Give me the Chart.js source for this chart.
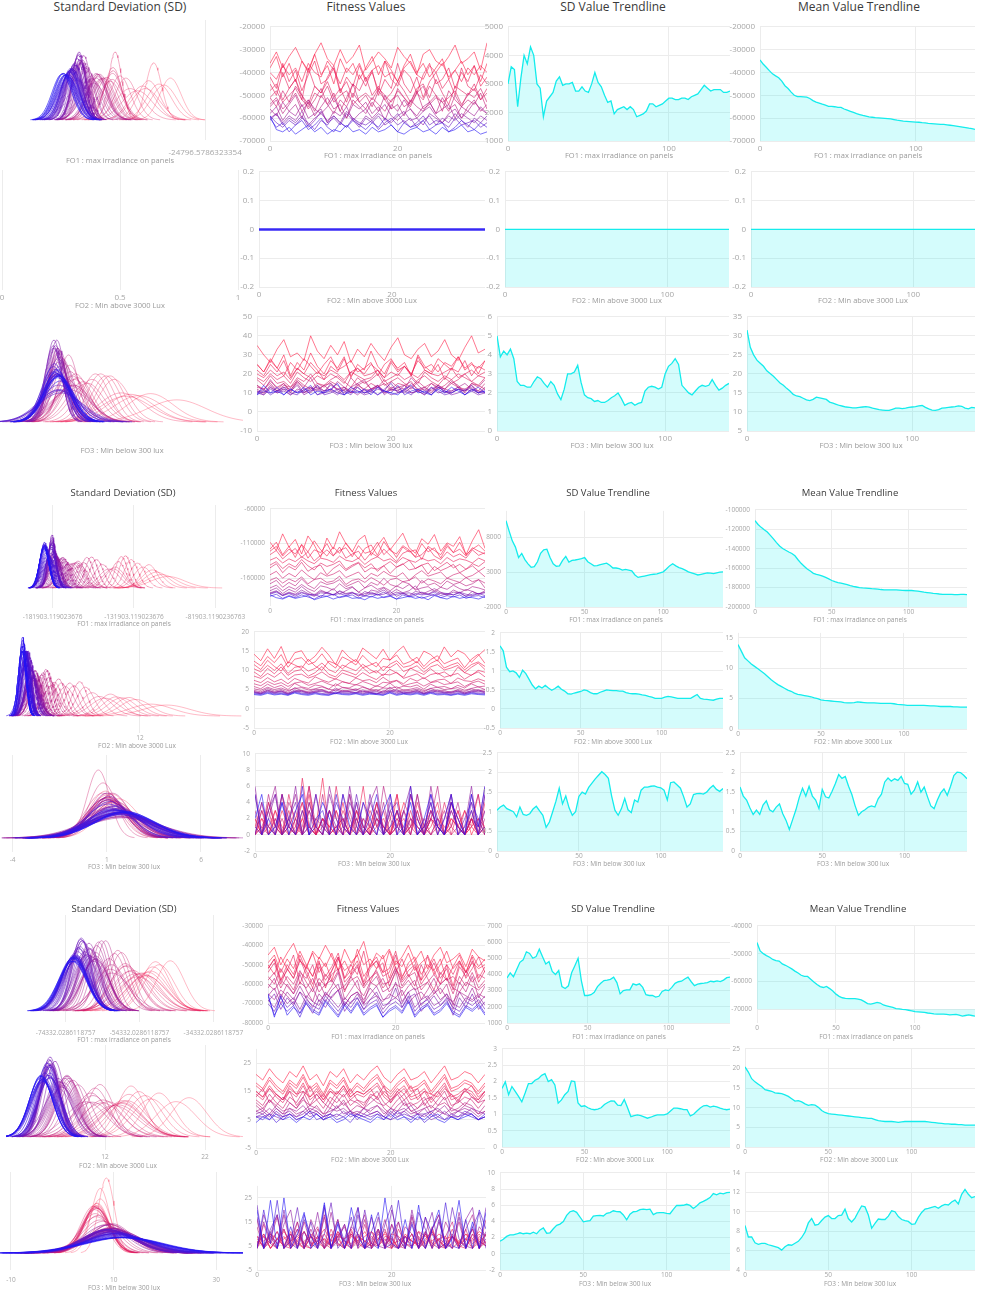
<!DOCTYPE html>
<html>
<head>
<meta charset="utf-8">
<script src="https://cdn.jsdelivr.net/npm/chart.js@4.4.1/dist/chart.umd.min.js"></script>
<style>
  body { margin: 0; background: #fff; width: 982px; height: 1296px; position: relative; overflow: hidden; font-family: 'Open Sans', sans-serif; }
  canvas { position: absolute; }
  .txt { position: absolute; transform: translate(-50%, -50%); white-space: nowrap; line-height: 1; }
</style>
</head>
<body>
<script>
// ---- data ----
const HEADERS = ['Standard Deviation (SD)', 'Fitness Values', 'SD Value Trendline', 'Mean Value Trendline'];
const OBJ_LABELS = ['FO1 : max irradiance on panels', 'FO2 : Min above 3000 Lux', 'FO3 : Min below 300 lux'];

// generations sampled for the trendlines (every second one)
const GENS = [0,2,4,6,8,10,12,14,16,18,20,22,24,26,28,30,32,34,36,38,40,42,44,46,48,50,52,54,56,58,60,62,64,66,68,
  70,72,74,76,78,80,82,84,86,88,90,92,94,96,98,100,102,104,106,108,110,112,114,116,118,120,122,124,126,128,130,132,134,136,138];
// individuals on the fitness x axis
const IND = [0,1,2,3,4,5,6,7,8,9,10,11,12,13,14,15,16,17,18,19,20,21,22,23,24,25,26,27,28,29,30,31,32,33,34];
// generations of the fitness rows below
const FIT_GENS = [0, 3, 6, 10, 14, 19, 24, 30, 36, 44, 52, 62, 72, 84, 96, 118, 138];

// block 1
const B1_FO1_SD = [3000,3600,3500,2200,3200,4000,3700,4300,4000,3000,2850,1850,2400,2550,2700,3100,3250,2950,3000,3000,
  3050,2750,2750,2900,2750,2700,3000,3400,3050,2900,2600,2350,2400,1950,2100,2150,2200,2100,2200,2100,
  1850,1900,1950,2050,2300,2300,2200,2250,2300,2400,2500,2500,2450,2450,2500,2500,2450,2550,2600,2650,
  2800,2950,2850,2750,2800,2800,2800,2700,2700,2750];
const B1_FO1_MEAN = [-34500,-36300,-37700,-39200,-40600,-41500,-42300,-43800,-45800,-47000,-48600,-50000,-50600,-50600,-50700,-50800,-51400,-52300,-53000,-53400,
  -53900,-54300,-54800,-54800,-55000,-55300,-55300,-56000,-56500,-57000,-57500,-58000,-58400,-58800,-59100,-59400,-59600,-59800,-59900,-60000,
  -60100,-60200,-60300,-60600,-60900,-61100,-61300,-61400,-61500,-61600,-61700,-61800,-62000,-62100,-62300,-62400,-62500,-62600,-62700,-62700,
  -62900,-63100,-63300,-63500,-63700,-63900,-64100,-64400,-64600,-64900];
const B1_FO2_SD = [0,0,0,0,0,0,0,0,0,0,0,0,0,0,0,0,0,0,0,0,0,0,0,0,0,0,0,0,0,0,0,0,0,0,0,
  0,0,0,0,0,0,0,0,0,0,0,0,0,0,0,0,0,0,0,0,0,0,0,0,0,0,0,0,0,0,0,0,0,0,0];
const B1_FO2_MEAN = [0,0,0,0,0,0,0,0,0,0,0,0,0,0,0,0,0,0,0,0,0,0,0,0,0,0,0,0,0,0,0,0,0,0,0,
  0,0,0,0,0,0,0,0,0,0,0,0,0,0,0,0,0,0,0,0,0,0,0,0,0,0,0,0,0,0,0,0,0,0,0];
const B1_FO3_SD = [5.0,3.9,4.2,4.0,4.3,3.8,2.6,2.4,2.4,2.3,2.3,2.6,2.85,2.75,2.5,2.3,2.6,2.4,1.95,1.65,
  2.2,3.0,3.0,3.1,3.45,2.55,1.9,1.75,1.7,1.55,1.6,1.5,1.5,1.6,1.75,1.85,2.0,1.7,1.35,1.45,
  1.5,1.35,1.45,1.5,2.1,2.3,2.35,2.3,2.2,2.3,3.0,3.4,3.55,3.8,3.5,2.4,2.2,2.0,1.9,2.1,
  2.3,2.4,2.35,2.4,2.7,2.4,2.15,2.25,2.4,2.5];
const B1_FO3_MEAN = [31.5,27,25,23.6,22.8,22,20.8,20.1,19.4,18.5,17.6,17,16.2,15.5,14.6,14.2,14.0,13.6,13.2,13.0,
  13.3,13.9,13.7,13.5,13.3,12.6,12.3,12.0,11.7,11.5,11.3,11.2,11.1,11.1,11.2,11.3,11.4,11.3,11.0,10.8,
  10.6,10.5,10.4,10.4,10.7,11.0,11.0,10.9,11.0,11.2,11.3,11.4,11.6,11.7,11.2,10.8,10.5,10.4,10.6,11.0,
  11.1,11.2,11.3,11.4,11.6,11.5,11.0,10.8,11.2,11.1];

// fitness rows (one per FIT_GENS entry), FO1 values in thousands
const B1_FO1_FIT_K = [
  [-36,-31,-38,-33,-29,-35,-40,-32,-27,-34,-37,-30,-36,-33,-28,-39,-35,-31,-34,-38,-29,-33,-36,-41,-32,-30,-35,-37,-33,-28,-36,-34,-31,-39,-27],
  [-38,-33,-42,-36,-44,-35,-39,-32,-41,-37,-45,-34,-40,-36,-43,-38,-33,-41,-35,-39,-44,-37,-32,-40,-36,-42,-38,-34,-43,-39,-35,-41,-37,-44,-36],
  [-40,-43,-37,-41,-38,-44,-36,-40,-42,-35,-39,-45,-38,-41,-36,-43,-39,-37,-42,-40,-44,-38,-35,-41,-43,-37,-40,-36,-42,-39,-44,-38,-41,-37,-40],
  [-42,-47,-36,-44,-39,-48,-41,-35,-45,-43,-38,-49,-42,-46,-37,-44,-40,-48,-35,-43,-46,-39,-42,-49,-41,-36,-45,-43,-38,-47,-40,-44,-37,-46,-42],
  [-45,-50,-40,-47,-43,-52,-38,-46,-49,-42,-37,-48,-44,-51,-41,-46,-39,-50,-43,-47,-36,-45,-49,-42,-51,-44,-40,-47,-43,-50,-38,-46,-48,-41,-45],
  [-48,-45,-52,-47,-43,-50,-54,-46,-49,-44,-51,-47,-53,-45,-48,-42,-50,-46,-52,-49,-44,-48,-53,-47,-45,-51,-43,-49,-54,-46,-48,-50,-45,-52,-47],
  [-51,-48,-53,-50,-47,-52,-55,-49,-51,-46,-53,-50,-48,-54,-51,-49,-52,-47,-50,-53,-48,-51,-55,-49,-52,-46,-50,-53,-51,-48,-54,-50,-47,-52,-49],
  [-51,-55,-48,-53,-46,-50,-56,-52,-47,-54,-49,-57,-51,-45,-53,-50,-55,-48,-52,-56,-47,-51,-54,-49,-46,-53,-50,-57,-48,-52,-55,-49,-51,-47,-53],
  [-54,-51,-56,-53,-49,-55,-52,-57,-50,-54,-58,-52,-55,-49,-53,-56,-51,-54,-57,-52,-50,-55,-53,-48,-56,-54,-51,-53,-57,-50,-55,-52,-54,-49,-56],
  [-55,-52,-58,-54,-50,-57,-53,-59,-55,-51,-56,-54,-60,-52,-55,-58,-53,-57,-50,-56,-54,-59,-52,-55,-57,-53,-58,-51,-56,-54,-60,-55,-52,-57,-54],
  [-56,-59,-53,-57,-54,-60,-52,-56,-58,-55,-51,-57,-60,-54,-56,-53,-58,-55,-61,-54,-57,-52,-56,-59,-55,-53,-58,-56,-54,-60,-55,-57,-53,-56,-58],
  [-58,-55,-61,-57,-59,-54,-60,-58,-56,-62,-57,-59,-55,-61,-58,-56,-60,-57,-54,-59,-61,-58,-56,-60,-57,-55,-59,-62,-58,-56,-60,-57,-59,-55,-58],
  [-60,-58,-62,-59,-61,-57,-63,-60,-58,-61,-59,-62,-57,-60,-63,-59,-61,-58,-60,-62,-59,-57,-61,-60,-63,-58,-60,-62,-59,-61,-58,-60,-62,-59,-61],
  [-61,-58,-63,-60,-62,-59,-64,-61,-57,-62,-60,-63,-58,-61,-64,-60,-62,-59,-63,-61,-58,-62,-60,-64,-61,-59,-63,-60,-62,-58,-61,-64,-60,-62,-59],
  [-59,-62,-64,-61,-63,-60,-62,-65,-61,-63,-59,-62,-64,-60,-62,-63,-61,-65,-62,-60,-63,-61,-64,-62,-59,-63,-61,-62,-64,-60,-63,-62,-61,-64,-62],
  [-60,-64,-62,-66,-63,-61,-65,-63,-60,-64,-66,-62,-64,-61,-63,-65,-62,-64,-60,-63,-66,-62,-64,-63,-61,-65,-63,-62,-66,-64,-61,-63,-65,-62,-64],
  [-59,-65,-66,-64,-67,-65,-63,-66,-64,-67,-65,-66,-63,-66,-65,-67,-64,-66,-65,-63,-66,-67,-65,-64,-66,-65,-67,-64,-66,-65,-63,-66,-65,-67,-66]
];
const B1_FO2_FIT = [
  [0,0,0,0,0,0,0,0,0,0,0,0,0,0,0,0,0,0,0,0,0,0,0,0,0,0,0,0,0,0,0,0,0,0,0]
];
const B1_FO3_FIT = [
  [35,30,26,33,38,29,31,27,40,32,28,35,30,37,26,33,29,36,31,27,34,39,30,28,33,36,29,32,38,30,27,34,40,31,33],
  [25,21,28,23,30,19,26,22,31,24,20,27,23,29,18,25,22,32,24,20,27,23,26,19,30,24,21,28,25,22,29,23,26,20,27],
  [25,21,27,23,19,26,22,28,24,20,25,29,22,24,27,21,23,26,19,25,28,22,24,20,27,23,25,21,26,24,29,22,25,23,27],
  [22,19,25,21,27,18,23,20,26,22,17,24,21,28,19,23,20,25,22,18,26,21,24,19,29,22,20,25,17,23,21,27,19,24,22],
  [20,18,22,19,21,17,23,20,18,21,19,22,20,17,21,23,19,20,22,18,21,19,24,20,18,22,20,19,21,23,18,20,22,19,21],
  [18,16,20,17,19,15,21,18,16,19,17,20,18,15,21,19,17,18,22,16,18,20,17,19,15,21,18,16,19,17,20,18,16,19,18],
  [17,14,19,15,16,13,18,16,20,15,14,17,19,16,13,18,15,17,20,14,16,18,15,13,17,19,16,14,18,15,17,20,16,14,18],
  [14,12,16,13,15,11,17,14,12,15,13,16,14,11,18,14,12,15,13,17,12,15,14,16,11,13,15,12,14,17,13,11,15,14,12],
  [13,12,15,11,14,13,16,12,13,11,14,15,12,13,10,14,16,12,13,15,11,13,14,12,16,13,11,14,12,15,13,12,14,11,15],
  [14,11,17,12,15,10,16,13,18,12,14,11,16,13,10,15,17,12,14,11,16,13,12,18,14,11,15,13,12,16,14,10,15,13,17],
  [12,10,14,11,13,12,15,10,12,13,11,14,12,10,13,15,11,12,14,10,13,12,11,15,12,13,10,14,12,11,13,15,12,10,13],
  [11,10,13,11,12,9,12,11,10,14,11,12,10,13,11,9,12,11,13,10,12,11,14,10,11,12,9,13,11,10,12,11,13,10,12],
  [11,9,13,10,12,11,14,9,11,12,10,15,11,9,12,13,10,11,14,9,12,11,10,13,11,9,12,14,10,11,13,9,12,11,10],
  [10,9,12,10,11,9,11,10,13,9,10,11,9,12,10,11,9,10,12,11,9,10,12,10,11,9,13,10,11,9,10,12,11,9,10],
  [10,12,9,11,13,10,9,12,11,14,9,10,12,11,9,13,10,11,9,12,15,10,11,9,12,10,13,11,9,10,12,11,14,10,11],
  [9,11,10,13,9,12,10,11,14,9,11,12,10,9,13,11,10,12,9,11,10,14,9,11,12,10,9,13,11,10,12,9,11,13,10],
  [9,14,10,11,9,12,10,13,9,11,10,12,15,9,11,10,12,9,13,11,10,9,12,14,10,11,9,12,10,13,11,9,12,10,11]
];

// block 2
const B2_FO1_SD = [10400,8900,7500,6600,5100,5700,4800,4200,3700,3800,4500,5700,6200,6300,5100,4200,3850,3900,4700,5250,
  4450,4700,4750,4850,4950,5100,4500,4200,3900,3950,4100,4200,4300,4000,3600,3600,3500,3300,3400,3300,
  3200,2600,2250,2350,2450,2550,2650,2700,2750,2900,3050,3450,3900,4200,3900,3650,3500,3300,3050,2900,
  2750,2600,2700,2800,2900,2850,2800,2900,3000,3050];
const B2_FO1_MEAN = [-111000,-115000,-118000,-120500,-122800,-126300,-129800,-133700,-137200,-139700,
  -141600,-143400,-144900,-147300,-151300,-155000,-158000,-160900,-163000,-165300,
  -166300,-167200,-168200,-169500,-171100,-172700,-173900,-174800,-175500,-176200,
  -176900,-177900,-178800,-179400,-180000,-180400,-180600,-180800,-181100,-181300,
  -181600,-182000,-182300,-182300,-182300,-182300,-182400,-182600,-182900,-183000,
  -183000,-183000,-183300,-183700,-184200,-184700,-185100,-185500,-185900,-186200,
  -186600,-186900,-187100,-187100,-187100,-187200,-187200,-187100,-187100,-187200];
const B2_FO2_SD = [1.66,1.53,1.1,0.98,1.0,0.95,0.83,1.02,0.93,0.78,0.63,0.53,0.6,0.55,0.62,0.55,0.49,0.54,0.6,0.52,
  0.47,0.4,0.39,0.42,0.44,0.46,0.5,0.48,0.43,0.4,0.4,0.44,0.47,0.5,0.49,0.48,0.48,0.47,0.47,0.43,
  0.41,0.4,0.4,0.39,0.37,0.36,0.33,0.31,0.28,0.28,0.28,0.31,0.33,0.32,0.3,0.28,0.28,0.28,0.28,0.28,
  0.33,0.38,0.28,0.26,0.25,0.24,0.23,0.26,0.28,0.28];
const B2_FO2_MEAN = [13.9,12.8,11.7,11.2,10.7,10.3,9.9,9.5,9.1,8.6,8.1,7.7,7.3,7.0,6.7,6.4,6.2,5.9,5.7,5.6,
  5.5,5.4,5.3,5.1,5.0,4.8,4.7,4.65,4.6,4.55,4.5,4.45,4.35,4.3,4.3,4.35,4.45,4.4,4.35,4.3,
  4.3,4.3,4.25,4.2,4.2,4.2,4.2,4.15,4.05,4.0,3.95,3.9,3.9,3.9,3.9,3.9,3.9,3.85,3.8,3.8,
  3.75,3.7,3.7,3.7,3.7,3.65,3.65,3.6,3.6,3.6];
const B2_FO3_SD = [1.04,1.12,1.17,1.08,1.04,1.0,0.87,1.12,0.93,0.91,0.95,1.07,1.14,1.02,0.91,0.6,0.74,1.0,1.27,1.6,
  1.2,1.4,1.1,0.91,1.0,1.39,1.5,1.45,1.62,1.73,1.84,1.93,2.02,1.95,1.85,1.4,1.04,0.91,1.08,1.34,
  1.05,0.98,1.3,1.25,1.55,1.63,1.63,1.65,1.66,1.63,1.61,1.55,1.3,1.74,1.76,1.68,1.6,1.38,1.12,1.2,
  1.44,1.46,1.47,1.45,1.5,1.6,1.67,1.57,1.52,1.59];
const B2_FO3_MEAN = [1.63,1.4,1.3,1.1,0.93,1.04,0.93,1.17,1.28,1.05,1.0,1.12,1.2,0.95,0.78,0.55,0.8,1.05,1.36,1.6,
  1.4,1.65,1.4,1.3,1.08,1.57,1.38,1.35,1.52,1.72,1.95,1.85,1.9,1.65,1.44,1.15,0.91,1.0,1.05,1.12,
  1.15,1.12,1.33,1.45,1.76,1.86,1.78,1.84,1.8,1.9,1.72,1.7,1.45,1.55,1.76,1.5,1.63,1.38,1.15,1.08,
  1.3,1.48,1.58,1.42,1.65,1.92,2.01,2.0,1.93,1.84];

const B2_FO1_FIT_K = [
  [-108,-120,-96,-115,-104,-125,-99,-112,-130,-102,-118,-93,-110,-122,-105,-98,-127,-113,-101,-119,-107,-95,-116,-124,-103,-111,-97,-121,-109,-114,-100,-126,-106,-90,-117],
  [-118,-108,-126,-114,-130,-111,-122,-106,-119,-128,-115,-124,-109,-121,-132,-117,-112,-127,-107,-120,-125,-113,-119,-129,-110,-122,-116,-131,-114,-123,-108,-126,-118,-112,-121],
  [-121,-114,-128,-118,-125,-112,-131,-119,-123,-110,-127,-120,-116,-129,-113,-124,-121,-108,-126,-117,-130,-115,-122,-119,-133,-114,-120,-126,-111,-123,-118,-128,-116,-121,-125],
  [-126,-120,-132,-124,-117,-130,-122,-135,-127,-119,-128,-115,-131,-125,-121,-134,-123,-129,-118,-127,-136,-124,-120,-130,-126,-116,-128,-133,-122,-129,-125,-131,-119,-127,-123],
  [-134,-130,-138,-132,-136,-129,-135,-139,-131,-133,-137,-128,-134,-136,-131,-140,-133,-129,-135,-132,-138,-130,-134,-137,-131,-135,-133,-139,-130,-136,-132,-134,-138,-131,-135],
  [-141,-136,-146,-139,-144,-133,-142,-148,-138,-143,-140,-135,-147,-141,-137,-145,-139,-150,-142,-136,-144,-140,-134,-146,-141,-138,-149,-143,-137,-145,-140,-147,-139,-143,-136],
  [-145,-139,-152,-143,-148,-137,-150,-144,-141,-155,-146,-140,-149,-143,-138,-151,-145,-147,-142,-153,-144,-139,-148,-146,-141,-154,-143,-149,-145,-140,-152,-147,-142,-150,-144],
  [-155,-150,-160,-153,-158,-148,-156,-162,-152,-157,-154,-149,-159,-155,-151,-161,-153,-157,-150,-156,-158,-152,-163,-155,-149,-157,-154,-151,-160,-155,-152,-159,-156,-150,-158],
  [-163,-159,-167,-161,-165,-158,-168,-162,-160,-166,-164,-157,-169,-163,-161,-166,-159,-164,-170,-162,-160,-165,-163,-158,-167,-161,-164,-168,-160,-163,-166,-159,-165,-162,-167],
  [-168,-163,-173,-166,-171,-161,-170,-175,-165,-169,-167,-162,-172,-168,-164,-174,-166,-170,-160,-169,-172,-165,-168,-176,-163,-170,-167,-173,-164,-169,-166,-171,-168,-162,-174],
  [-174,-170,-178,-172,-176,-169,-175,-179,-171,-173,-177,-168,-175,-172,-180,-174,-170,-176,-173,-178,-171,-175,-169,-177,-174,-172,-179,-173,-176,-170,-175,-178,-172,-174,-177],
  [-178,-174,-182,-176,-180,-172,-179,-184,-177,-181,-175,-183,-178,-173,-180,-185,-177,-179,-174,-182,-176,-181,-178,-171,-183,-179,-175,-180,-184,-177,-181,-176,-179,-183,-178],
  [-181,-178,-184,-180,-183,-177,-182,-185,-179,-181,-184,-178,-182,-180,-186,-179,-183,-181,-177,-184,-180,-182,-185,-179,-181,-183,-178,-182,-184,-180,-181,-186,-179,-183,-180],
  [-182,-179,-185,-181,-184,-180,-183,-186,-181,-182,-184,-179,-183,-181,-185,-182,-180,-184,-183,-179,-186,-182,-181,-184,-180,-183,-185,-181,-182,-184,-180,-183,-185,-182,-181],
  [-183,-180,-185,-182,-186,-181,-184,-183,-187,-180,-184,-182,-185,-181,-183,-186,-182,-184,-180,-185,-183,-181,-186,-182,-184,-183,-180,-185,-182,-184,-181,-186,-183,-182,-185],
  [-186,-183,-189,-185,-188,-184,-187,-190,-185,-186,-183,-188,-186,-184,-189,-185,-187,-183,-188,-186,-190,-184,-187,-185,-189,-186,-183,-188,-185,-187,-184,-189,-186,-185,-188],
  [-184,-188,-190,-186,-189,-187,-185,-191,-188,-186,-190,-187,-185,-189,-188,-191,-186,-189,-187,-185,-190,-188,-186,-189,-187,-191,-185,-188,-190,-186,-189,-187,-188,-190,-186]
];
const B2_FO2_FIT = [
  [14.2,12.5,15.6,13.1,16.2,11.8,14.6,15.1,12.3,13.7,16.0,14.0,11.5,15.3,13.4,12.2,15.8,14.4,13.0,15.5,12.6,14.8,16.3,13.2,11.9,15.0,14.1,12.4,16.1,13.5,15.2,14.3,12.1,13.8,15.4],
  [12.4,11.2,13.6,12.0,14.1,10.8,12.9,13.3,11.5,12.2,14.3,11.9,10.6,13.5,12.6,11.4,13.9,12.1,10.9,13.1,12.7,14.0,11.6,12.3,13.4,11.0,12.8,13.8,11.7,12.5,13.2,10.7,12.9,14.2,11.8],
  [11.5,10.2,12.6,11.0,9.8,12.2,11.4,10.5,12.9,11.1,10.0,12.4,11.7,10.4,11.9,12.8,10.7,11.3,12.1,9.9,11.6,12.5,10.8,11.2,12.3,10.3,11.8,12.7,10.6,11.4,12.0,10.1,11.5,12.2,11.0],
  [10.4,9.6,11.3,10.0,11.7,9.2,10.8,11.1,9.8,10.5,11.9,10.2,9.4,11.4,10.6,9.9,11.6,10.3,9.3,11.0,10.7,11.8,9.7,10.4,11.2,9.5,10.9,11.5,10.1,10.6,11.3,9.4,10.8,11.9,10.2],
  [9.6,8.4,10.5,9.1,10.9,8.7,9.8,10.2,8.5,9.4,11.0,9.0,8.3,10.1,9.5,8.8,10.7,9.2,9.9,8.6,10.3,9.3,8.2,10.6,9.7,8.9,10.4,9.0,9.6,8.4,10.8,9.4,8.7,10.0,9.5],
  [8.5,7.9,9.2,8.2,9.5,7.6,8.8,9.0,8.0,8.6,9.6,8.3,7.7,9.3,8.7,8.1,9.4,8.4,7.6,9.0,8.8,9.5,7.9,8.5,9.1,7.8,8.9,9.3,8.2,8.7,9.2,7.7,8.8,9.6,8.3],
  [7.4,6.8,8.1,7.0,7.7,6.5,7.9,7.2,6.7,8.3,7.5,6.9,7.8,7.1,6.6,8.0,7.3,7.6,6.8,8.2,7.0,7.4,6.5,7.9,7.2,8.1,6.9,7.5,7.7,6.6,8.0,7.3,7.1,7.8,7.2],
  [6.5,6.0,7.1,6.3,6.8,5.8,6.7,7.0,6.1,6.6,7.2,6.4,5.9,7.0,6.6,6.2,7.1,6.5,5.8,6.9,6.7,7.3,6.0,6.5,6.9,5.9,6.8,7.1,6.3,6.6,7.0,5.8,6.7,7.2,6.4],
  [5.8,5.2,6.4,5.5,6.1,5.0,6.6,5.7,5.3,6.2,5.9,5.1,6.5,5.6,5.4,6.3,5.8,5.0,6.0,5.5,6.7,5.3,5.9,5.7,6.2,5.1,6.4,5.6,5.8,5.2,6.1,5.4,6.5,5.7,5.9],
  [5.2,4.8,5.6,5.0,5.4,4.7,5.3,5.5,4.9,5.2,5.7,5.1,4.7,5.5,5.2,4.9,5.6,5.1,4.6,5.4,5.3,5.7,4.8,5.1,5.5,4.7,5.3,5.6,5.0,5.2,5.5,4.8,5.3,5.7,5.0],
  [4.8,4.4,5.3,4.6,5.0,4.3,5.5,4.7,4.5,5.1,4.9,4.2,5.4,4.6,4.8,5.2,4.4,4.7,5.0,4.3,5.6,4.5,4.9,4.7,5.1,4.4,5.3,4.6,4.8,4.2,5.0,4.5,5.2,4.7,4.9],
  [4.5,4.1,4.9,4.3,4.7,4.0,4.6,4.8,4.2,4.5,5.0,4.4,4.0,4.8,4.5,4.2,4.9,4.4,3.9,4.7,4.6,5.0,4.1,4.4,4.8,4.0,4.6,4.9,4.3,4.5,4.8,4.1,4.6,5.0,4.3],
  [4.4,4.1,4.8,4.3,4.6,4.0,4.9,4.4,4.2,4.7,4.5,4.0,5.0,4.3,4.5,4.8,4.1,4.4,4.6,4.0,4.9,4.2,4.5,4.3,4.7,4.1,4.8,4.3,4.4,4.0,4.6,4.2,4.7,4.4,4.5],
  [4.3,3.9,4.6,4.1,4.5,3.8,4.4,4.6,4.0,4.3,4.7,4.2,3.9,4.5,4.3,4.0,4.6,4.2,3.8,4.4,4.4,4.7,4.0,4.2,4.5,3.9,4.3,4.6,4.1,4.3,4.5,3.9,4.4,4.7,4.1],
  [4.1,3.9,4.4,4.0,4.2,3.8,4.5,4.1,3.9,4.3,4.0,3.8,4.4,4.1,4.0,4.3,3.9,4.2,4.1,3.8,4.5,3.9,4.2,4.0,4.3,3.9,4.4,4.0,4.1,3.8,4.2,3.9,4.3,4.1,4.0],
  [3.9,3.7,4.2,3.8,4.0,3.6,4.3,3.9,3.7,4.1,3.8,3.6,4.2,3.9,3.8,4.1,3.7,4.0,3.9,3.6,4.3,3.7,4.0,3.8,4.1,3.7,4.2,3.8,3.9,3.6,4.0,3.7,4.1,3.9,3.8],
  [3.7,3.5,4.0,3.6,3.8,3.5,4.1,3.7,3.5,3.9,3.6,3.5,4.0,3.7,3.6,3.9,3.5,3.8,3.7,3.5,4.1,3.5,3.8,3.6,3.9,3.5,4.0,3.6,3.7,3.5,3.8,3.5,3.9,3.7,3.6]
];
const B2_FO3_FIT = [
  [1,2,0,3,1,0,2,4,1,0,2,1,3,0,1,2,0,3,1,2,0,1,4,2,0,1,3,1,0,2,1,3,0,2,1],
  [0,3,1,0,5,1,0,2,6,0,1,3,0,2,0,4,1,0,3,1,0,5,0,2,1,0,3,1,0,4,2,0,1,5,0],
  [0,2,1,0,3,1,0,2,0,1,7,0,1,2,0,3,1,0,2,1,0,3,0,1,2,0,1,3,0,2,1,0,2,1,0],
  [2,0,4,1,0,3,0,1,5,0,2,1,0,4,0,1,6,0,2,1,0,3,0,5,1,0,2,4,0,1,3,0,2,0,4],
  [2,0,1,3,0,1,0,7,1,0,2,1,0,3,1,0,2,0,1,3,0,1,2,0,4,1,0,2,1,0,3,0,1,2,0],
  [1,4,0,2,0,5,1,0,3,0,2,0,6,1,0,3,0,1,4,0,2,5,0,1,3,0,2,0,4,1,0,3,1,0,5],
  [0,1,3,0,2,0,1,4,0,2,1,0,3,1,0,2,0,1,4,0,1,2,0,3,0,1,2,1,0,3,1,0,2,0,1],
  [0,1,0,2,0,1,3,0,1,0,2,0,1,0,3,0,1,0,2,1,0,3,0,1,0,2,0,1,3,0,1,0,2,0,1],
  [1,0,4,1,0,2,0,3,1,0,5,0,1,2,0,3,1,0,4,1,0,2,1,0,3,0,2,1,0,4,1,0,2,1,3],
  [3,0,5,1,0,4,2,0,6,1,0,3,0,5,2,0,4,1,0,6,2,0,3,1,5,0,2,6,0,1,4,0,2,5,0],
  [0,3,0,1,5,0,2,0,4,1,0,3,0,1,5,0,2,1,0,4,0,1,3,0,5,1,0,2,0,4,1,0,3,0,2],
  [5,0,3,6,0,2,5,0,4,1,0,6,2,0,5,1,0,4,6,0,3,1,0,5,2,0,6,1,0,4,2,0,5,1,6],
  [6,0,2,5,0,1,6,0,3,1,0,5,2,0,6,1,0,4,2,0,5,0,3,6,0,1,4,0,2,5,0,1,6,0,3],
  [1,0,3,5,0,2,4,0,1,5,0,3,1,0,4,2,0,5,1,0,3,4,0,2,1,0,5,2,0,3,1,0,4,2,0],
  [0,4,1,0,5,2,0,3,0,5,1,0,4,2,0,5,1,0,3,0,4,1,0,5,2,0,3,1,0,5,0,2,4,0,1],
  [5,0,2,0,4,1,0,6,0,2,3,0,5,1,0,4,0,2,5,0,1,3,0,6,0,1,4,0,2,5,0,1,3,0,5],
  [2,5,0,1,4,0,3,5,0,1,4,2,0,5,1,0,4,2,0,3,5,0,1,4,0,2,5,1,0,4,2,0,5,1,6]
];

// block 3
const B3_FO1_SD = [3780,4100,3850,4300,4750,4900,5400,5300,5000,5100,5560,5100,4650,4800,4190,4000,4240,3250,3130,3300,
  4100,4540,5000,3620,2700,2700,2750,2900,3250,3450,3620,3650,3700,3830,3500,2800,3000,3050,3050,3420,
  3350,3420,3200,2750,2700,2700,2600,2650,2950,3050,3000,3200,3450,3550,3580,3720,3830,3550,3310,3400,
  3440,3460,3500,3580,3550,3600,3560,3650,3800,3830];
const B3_FO1_MEAN = [-46000,-49000,-50000,-50700,-51300,-52100,-52500,-52700,-53700,-54200,
  -54800,-55500,-56300,-57000,-57800,-58200,-58200,-59200,-60200,-61100,
  -61900,-62200,-61800,-62600,-63500,-64600,-65400,-65900,-66100,-66200,
  -66200,-66200,-66400,-66700,-67300,-68000,-68200,-67900,-67600,-67800,
  -68500,-68800,-69100,-69400,-69800,-69900,-70100,-70200,-70400,-70600,
  -70900,-71000,-71100,-71200,-71400,-71500,-71700,-71800,-71800,-71800,
  -71900,-72100,-72000,-71900,-72200,-72500,-72300,-72100,-72300,-72500];
const B3_FO2_SD = [1.79,1.99,1.6,1.85,1.7,1.55,1.38,1.65,1.94,1.94,2.04,2.09,2.19,2.24,2.0,2.06,1.9,1.34,1.44,1.6,
  1.7,2.02,2.0,1.35,1.24,1.26,1.2,1.16,1.14,1.16,1.2,1.3,1.36,1.41,1.4,1.28,1.27,1.45,1.2,0.93,
  0.96,0.98,0.96,0.92,0.88,0.91,0.95,0.98,0.98,0.98,1.01,1.1,1.19,1.19,1.17,1.14,1.14,0.95,1.0,1.1,
  1.19,1.26,1.27,1.22,1.25,1.23,1.19,1.16,1.14,1.16];
const B3_FO2_MEAN = [20.4,19.1,17.4,16.6,16.0,15.4,14.6,14.4,14.2,13.8,13.7,13.6,13.3,12.9,12.3,11.7,11.8,11.5,11.0,10.6,
  10.8,10.7,10.1,9.3,8.8,8.5,8.4,8.3,8.2,8.1,8.0,7.9,7.8,7.7,7.6,7.5,7.4,7.3,7.3,7.0,
  6.7,6.6,6.5,6.5,6.5,6.4,6.3,6.4,6.5,6.5,6.5,6.5,6.5,6.5,6.5,6.4,6.3,6.2,6.1,6.0,
  5.9,5.9,5.8,5.8,5.7,5.7,5.6,5.6,5.6,5.6];
const B3_FO3_SD = [1.55,1.8,2.15,2.33,2.35,2.45,2.6,2.48,2.56,2.48,2.68,2.48,2.95,3.2,2.55,2.6,3.1,3.52,3.67,4.0,
  4.75,5.2,5.32,5.12,4.55,3.95,4.05,4.1,4.65,4.72,4.75,4.68,5.0,5.1,5.32,5.22,5.2,4.8,4.2,4.9,
  5.2,5.25,5.45,5.53,5.46,5.52,4.85,5.05,5.1,5.08,5.0,4.95,5.5,5.98,5.97,6.0,6.12,5.98,5.6,5.9,
  6.3,6.48,6.7,6.95,7.45,7.3,7.5,7.4,7.56,7.6];
const B3_FO3_MEAN = [8.58,7.4,7.4,6.8,6.65,6.75,6.75,6.6,6.5,6.4,6.3,6.05,6.4,6.6,6.55,6.75,6.95,7.35,7.9,8.85,
  9.3,8.62,8.7,9.1,9.45,9.6,9.3,9.3,9.6,9.66,10.27,9.3,8.95,9.35,10.0,10.6,10.5,9.66,8.3,8.8,
  9.25,9.2,9.2,9.55,10.1,10.0,9.5,9.2,9.08,9.0,8.7,8.75,9.42,9.93,10.27,10.34,10.45,10.55,10.35,10.6,
  10.75,10.7,11.0,11.2,10.8,11.8,12.3,11.8,11.45,11.56];

const B3_FO1_FIT_K = [
  [-45,-41,-50,-44,-39,-48,-52,-43,-47,-40,-46,-53,-42,-49,-45,-38,-51,-44,-47,-42,-50,-46,-40,-48,-43,-52,-45,-41,-49,-47,-44,-51,-42,-46,-48],
  [-49,-45,-54,-47,-52,-43,-50,-56,-46,-51,-44,-53,-48,-55,-42,-50,-47,-52,-45,-57,-48,-51,-44,-53,-49,-46,-55,-50,-43,-52,-48,-54,-45,-51,-47],
  [-50,-55,-46,-52,-57,-48,-51,-44,-54,-49,-58,-47,-53,-50,-45,-56,-51,-48,-54,-43,-52,-57,-49,-46,-55,-50,-53,-47,-58,-51,-45,-54,-49,-52,-50],
  [-52,-47,-58,-50,-55,-45,-53,-60,-49,-56,-51,-44,-57,-53,-48,-59,-50,-46,-54,-52,-43,-56,-51,-48,-58,-53,-47,-55,-50,-61,-49,-54,-46,-57,-51],
  [-52,-47,-58,-53,-45,-60,-51,-56,-48,-62,-53,-46,-57,-50,-55,-43,-59,-52,-49,-61,-54,-47,-56,-51,-58,-45,-53,-60,-50,-55,-48,-57,-52,-46,-54],
  [-54,-49,-60,-52,-57,-47,-55,-62,-51,-58,-53,-46,-59,-55,-50,-61,-52,-48,-56,-54,-45,-58,-53,-50,-60,-55,-49,-57,-52,-63,-51,-56,-48,-59,-53],
  [-56,-60,-52,-58,-63,-54,-57,-50,-61,-55,-59,-53,-64,-56,-51,-60,-57,-54,-62,-58,-52,-59,-55,-61,-50,-57,-63,-54,-58,-56,-60,-53,-59,-55,-57],
  [-58,-54,-62,-56,-60,-53,-59,-64,-57,-61,-55,-52,-63,-58,-56,-62,-57,-53,-60,-59,-51,-61,-56,-54,-63,-59,-55,-60,-57,-65,-56,-61,-54,-62,-58],
  [-60,-63,-58,-61,-65,-59,-62,-57,-64,-60,-58,-63,-61,-56,-62,-66,-59,-61,-57,-64,-60,-62,-58,-63,-61,-59,-65,-60,-57,-62,-64,-59,-61,-63,-60],
  [-62,-57,-67,-60,-65,-55,-63,-69,-59,-66,-61,-54,-68,-63,-58,-70,-60,-56,-64,-62,-53,-66,-61,-58,-68,-63,-57,-65,-60,-71,-59,-64,-56,-67,-61],
  [-65,-68,-63,-66,-70,-64,-67,-62,-69,-65,-67,-63,-71,-66,-64,-68,-62,-66,-69,-65,-67,-63,-70,-66,-64,-68,-65,-62,-67,-69,-64,-66,-68,-65,-67],
  [-66,-62,-70,-64,-68,-61,-67,-72,-65,-69,-63,-60,-71,-66,-64,-70,-65,-61,-68,-67,-59,-69,-64,-62,-71,-67,-63,-68,-65,-73,-64,-69,-62,-70,-66],
  [-68,-72,-65,-70,-67,-73,-66,-69,-71,-64,-68,-72,-67,-70,-65,-71,-68,-66,-73,-69,-67,-70,-64,-72,-68,-66,-71,-69,-65,-70,-72,-67,-69,-66,-71],
  [-69,-65,-73,-67,-71,-64,-70,-75,-68,-72,-66,-63,-74,-69,-67,-73,-68,-64,-71,-70,-62,-72,-67,-65,-74,-70,-66,-71,-68,-76,-67,-72,-65,-73,-69],
  [-70,-74,-67,-72,-69,-75,-68,-71,-73,-66,-70,-74,-69,-72,-67,-73,-70,-68,-75,-71,-69,-72,-66,-74,-70,-68,-73,-71,-67,-72,-74,-69,-71,-68,-73],
  [-66,-76,-70,-74,-71,-77,-69,-73,-75,-68,-72,-76,-70,-74,-69,-75,-72,-70,-77,-73,-71,-74,-68,-76,-72,-70,-75,-73,-69,-74,-76,-71,-73,-70,-75],
  [-65,-77,-66,-76,-72,-75,-70,-74,-76,-69,-73,-77,-71,-75,-70,-76,-73,-71,-77,-74,-72,-75,-69,-77,-73,-71,-76,-74,-70,-75,-77,-72,-74,-71,-76]
];
const B3_FO2_FIT = [
  [21,19,23,20,18,22,20,24,19,21,17,22,20,23,18,21,19,22,24,20,18,21,23,19,20,22,18,21,24,19,20,22,21,18,21],
  [18,16,20,17,15,19,17,21,16,18,14,19,17,20,15,18,16,19,21,17,15,18,20,16,17,19,15,18,21,16,17,19,18,15,18],
  [17,15,19,16,14,18,16,20,15,17,13,18,16,19,14,17,15,18,20,16,14,17,19,15,16,18,14,17,20,15,16,18,17,14,17],
  [15,13,17,14,12,16,14,18,13,15,12,16,14,17,13,15,14,16,18,14,12,15,17,13,14,16,12,15,18,13,14,16,15,12,15],
  [15,13,16,14,12,17,14,15,13,16,12,15,14,17,13,15,14,16,12,15,13,16,14,17,12,15,14,13,16,14,12,15,17,13,15],
  [14,12,16,13,11,15,13,17,12,14,11,15,13,16,12,14,13,15,17,13,11,14,16,12,13,15,11,14,17,12,13,15,14,11,14],
  [13,16,11,14,12,15,10,13,17,12,14,11,15,13,16,12,10,14,13,17,11,15,12,14,16,10,13,15,12,14,11,16,13,12,15],
  [12,10,14,11,9,13,11,15,10,12,9,13,11,14,10,12,11,13,15,11,9,12,14,10,11,13,9,12,15,10,11,13,12,9,12],
  [11,9,12,10,13,11,9,12,10,14,11,9,13,10,12,11,9,13,11,10,12,14,10,11,9,12,13,10,11,9,12,10,13,11,12],
  [10,8,12,9,7,11,9,13,8,10,7,11,9,12,8,10,9,11,13,9,7,10,12,8,9,11,7,10,13,8,9,11,10,7,10],
  [8,9,7,10,8,9,7,8,10,9,7,8,9,11,8,7,9,8,10,7,9,8,11,8,7,9,10,8,7,9,8,10,9,7,8],
  [8,7,9,7,6,9,8,10,7,8,6,9,8,9,7,8,7,9,10,8,6,8,9,7,8,9,6,8,10,7,8,9,8,6,8],
  [7,8,6,9,7,8,6,7,9,8,6,7,10,7,8,6,9,7,8,6,9,7,8,10,7,6,8,9,7,6,8,7,9,8,7],
  [6,6,7,6,5,7,6,8,6,7,5,7,6,8,6,7,6,7,8,6,5,6,8,6,7,7,5,6,8,6,6,7,7,5,6],
  [6,7,5,8,6,7,5,6,8,7,5,6,7,6,8,5,7,6,7,5,8,6,7,6,5,7,8,6,5,7,6,8,7,5,6],
  [6,5,7,4,6,7,5,6,8,5,6,7,5,6,4,7,6,5,7,6,5,8,6,5,7,4,6,7,5,6,5,7,6,5,7],
  [4,6,5,7,5,6,4,6,5,7,5,6,4,5,7,6,5,4,6,5,7,5,6,4,6,5,7,5,4,6,5,6,7,5,6]
];
const B3_FO3_FIT = [
  [9,7,10,8,11,7,9,6,10,8,12,7,9,8,10,6,9,11,8,7,10,9,6,8,11,9,7,10,8,9,6,10,8,11,9],
  [8,5,10,6,9,4,8,11,6,7,10,5,8,4,9,7,11,6,5,9,8,4,10,7,6,11,5,8,9,4,7,10,6,8,5],
  [7,5,9,6,8,10,5,7,9,6,8,5,10,7,6,9,7,5,8,10,6,7,9,5,8,6,10,7,5,9,6,8,7,10,6],
  [6,10,4,8,5,11,6,4,9,7,4,10,5,8,12,4,7,9,5,11,6,4,9,7,5,10,4,8,6,12,5,8,4,9,6],
  [6,9,4,8,5,10,7,4,9,6,8,5,11,6,4,9,7,5,10,6,8,4,9,7,5,10,6,8,4,9,7,5,8,6,10],
  [4,9,6,11,4,7,12,5,4,9,6,4,11,7,5,10,4,6,12,5,4,8,6,10,4,7,12,4,6,9,5,4,10,7,5],
  [5,10,4,8,12,4,7,11,5,9,4,12,6,4,10,7,4,11,5,8,4,12,6,5,9,4,11,7,4,10,5,8,12,4,7],
  [9,4,7,11,5,4,10,6,4,12,7,5,9,4,11,6,4,8,12,5,9,4,6,10,4,8,11,5,4,9,6,12,4,7,5],
  [4,14,6,4,12,5,15,4,9,13,4,7,16,4,10,5,14,4,8,12,4,15,6,4,11,5,13,4,9,15,4,7,12,4,10],
  [13,4,8,17,4,10,4,15,6,4,18,4,9,13,4,7,16,4,11,4,14,5,4,17,8,4,12,18,4,6,15,4,10,4,16],
  [16,4,10,18,4,8,15,4,12,5,17,4,9,14,4,11,18,4,7,16,5,4,13,10,4,17,6,4,15,9,4,12,18,4,8],
  [4,15,7,4,18,5,12,4,16,9,4,19,6,4,13,10,4,17,5,4,14,8,4,18,4,11,4,15,7,4,19,5,4,13,9],
  [4,18,9,4,14,20,4,11,5,19,4,8,16,4,13,21,4,6,17,4,10,15,4,20,7,4,12,18,4,9,4,16,21,4,11],
  [17,4,11,4,20,6,4,16,9,4,21,4,7,14,4,18,5,4,12,4,20,8,4,15,4,10,19,4,6,4,17,4,13,4,21],
  [22,4,12,18,4,7,21,4,15,4,10,23,4,8,17,4,20,6,4,14,22,4,9,4,19,12,4,16,4,21,8,4,13,19,4],
  [4,20,6,24,4,13,4,18,9,4,22,4,15,7,4,21,4,11,19,4,6,24,4,14,4,17,10,4,23,5,4,16,4,20,12],
  [20,4,24,4,25,4,10,19,4,7,23,4,14,4,21,9,4,18,4,25,6,4,16,4,22,4,12,20,4,8,24,4,15,4,19]
];

// tick labels
const FIT_X_TICKS = [0, 20];
const TREND_X_TICKS_B1 = [0, 100];
const TREND_X_TICKS = [0, 50, 100];
const B1_FO1_DIST_TICKS = [-24796.5786323354];
const B1_FO2_DIST_TICKS = [0, 0.5, 1];
const B1_FO3_DIST_TICKS = [];
const B2_FO1_DIST_TICKS = [-181903.119023676, -131903.119023676, -81903.1190236763];
const B2_FO2_DIST_TICKS = [12];
const B2_FO3_DIST_TICKS = [-4, 1, 6];
const B3_FO1_DIST_TICKS = [-74332.0286118757, -54332.0286118757, -34332.0286118757];
const B3_FO2_DIST_TICKS = [12, 22];
const B3_FO3_DIST_TICKS = [-10, 10, 30];
const B1_FO1_Y_TICKS = [-70000, -60000, -50000, -40000, -30000, -20000];
const B1_FO1_SD_TICKS = [1000, 2000, 3000, 4000, 5000];
const B1_FO2_Y_TICKS = [-0.2, -0.1, 0, 0.1, 0.2];
const B1_FO3_FIT_TICKS = [-10, 0, 10, 20, 30, 40, 50];
const B1_FO3_SD_TICKS = [0, 1, 2, 3, 4, 5, 6];
const B1_FO3_MEAN_TICKS = [5, 10, 15, 20, 25, 30, 35];
const B2_FO1_FIT_TICKS = [-160000, -110000, -60000];
const B2_FO1_SD_TICKS = [-2000, 3000, 8000];
const B2_FO1_MEAN_TICKS = [-200000, -180000, -160000, -140000, -120000, -100000];
const B2_FO2_FIT_TICKS = [-5, 0, 5, 10, 15, 20];
const B2_FO2_SD_TICKS = [-0.5, 0, 0.5, 1, 1.5, 2];
const B2_FO2_MEAN_TICKS = [0, 5, 10, 15];
const B2_FO3_FIT_TICKS = [-2, 0, 2, 4, 6, 8, 10];
const B2_FO3_SD_TICKS = [0, 0.5, 1, 1.5, 2, 2.5];
const B3_FO1_FIT_TICKS = [-80000, -70000, -60000, -50000, -40000, -30000];
const B3_FO1_SD_TICKS = [1000, 2000, 3000, 4000, 5000, 6000, 7000];
const B3_FO1_MEAN_TICKS = [-70000, -60000, -50000, -40000];
const B3_FO2_FIT_TICKS = [-5, 5, 15, 25];
const B3_FO2_SD_TICKS = [0, 0.5, 1, 1.5, 2, 2.5, 3];
const B3_FO2_MEAN_TICKS = [0, 5, 10, 15, 20, 25];
const B3_FO3_SD_TICKS = [-2, 0, 2, 4, 6, 8, 10];
const B3_FO3_MEAN_TICKS = [4, 6, 8, 10, 12, 14];

// ---- layout ----
const PAD = { l: 46, t: 8, r: 8, b: 18 };
const RED = [255, 30, 70], BLUE = [35, 20, 245];
const K = 1000;

function genColor(g, a) {
  const t = g / GENS[GENS.length - 1];
  const c = RED.map((v, i) => Math.round(v + (BLUE[i] - v) * t));
  return `rgba(${c[0]},${c[1]},${c[2]},${a})`;
}

function addText(txt, cx, cy, size, color) {
  const d = document.createElement('div');
  d.className = 'txt';
  d.textContent = txt;
  d.style.left = cx + 'px';
  d.style.top = cy + 'px';
  d.style.fontSize = size + 'px';
  d.style.color = color;
  document.body.appendChild(d);
}

function makeCanvas(area) {
  const [l, t, r, b] = area;
  const cv = document.createElement('canvas');
  const w = r - l + PAD.l + PAD.r, h = b - t + PAD.t + PAD.b;
  cv.width = w; cv.height = h;
  cv.style.left = (l - PAD.l) + 'px';
  cv.style.top = (t - PAD.t) + 'px';
  document.body.appendChild(cv);
  return cv;
}

// the axis boxes take exactly the padding room, so the plot area lands on `area`
function axis(min, max, ticks, fs, pad) {
  return {
    type: 'linear', min, max,
    afterBuildTicks: s => { s.ticks = ticks.map(v => ({ value: v })); },
    afterFit: s => { if (s.isHorizontal()) s.height = PAD.b; else s.width = PAD.l; },
    grid: { color: '#ececec', drawTicks: false, lineWidth: 1 },
    border: { display: false },
    ticks: { font: { size: fs, family: 'Open Sans' }, color: '#a6a6a6', padding: pad,
      autoSkip: false, maxRotation: 0, callback: v => String(v) }
  };
}

function options(x, y, yShown) {
  return {
    responsive: false, animation: false, events: [],
    layout: { padding: { left: yShown ? 0 : PAD.l, top: PAD.t, right: PAD.r, bottom: 0 }, autoPadding: false },
    plugins: { legend: { display: false }, tooltip: { enabled: false } },
    elements: { point: { radius: 0 }, line: { tension: 0 } },
    scales: { x, y }
  };
}

function buildDist(row, blk) {
  const d = row.dist;
  const datasets = [];
  let minSd = Infinity;
  GENS.forEach((g, i) => {
    const m = row.mean[i], s = row.sd[i];
    if (!(s > 0)) return;
    minSd = Math.min(minSd, s);
    const pts = [];
    for (let k = 0; k <= 60; k++) {
      const x = m - 3.2 * s + 6.4 * s * k / 60;
      const z = (x - m) / s;
      pts.push({ x, y: Math.exp(-0.5 * z * z) / (s * Math.sqrt(2 * Math.PI)) });
    }
    const t = g / GENS[GENS.length - 1];
    datasets.push({ data: pts, borderColor: genColor(g, 0.3 + 0.35 * t), borderWidth: 1, fill: false, order: GENS.length - i });
  });
  const [l, t, r, b] = d.area;
  const maxPdf = minSd < Infinity ? 1 / (minSd * Math.sqrt(2 * Math.PI)) : 1;
  const per = maxPdf / d.peak;
  const y = { type: 'linear', display: false, min: -(b - d.base) * per, max: (d.base - t) * per };
  const x = axis(d.x[0], d.x[1], d.ticks, blk.tick, d.pad);
  new Chart(makeCanvas(d.area), { type: 'line', data: { datasets }, options: options(x, y, false) });
  addText(row.label, d.title[0], d.title[1], blk.ax, '#9a9a9a');
}

function buildFit(row, blk) {
  const f = row.fit;
  const n = row.fitRows.length;
  const datasets = row.fitRows.map((vals, k) => {
    const g = n === 1 ? GENS[GENS.length - 1] : FIT_GENS[k];
    return {
      data: IND.map((x, j) => ({ x, y: vals[j] * (row.fitScale || 1) })),
      borderColor: genColor(g, n === 1 ? 0.9 : 0.6),
      borderWidth: n === 1 ? 2.5 : 1,
      fill: false, order: n - k
    };
  });
  const x = axis(0, 34, FIT_X_TICKS, blk.tick, blk.xPad);
  const y = axis(f.y[0], f.y[1], f.ticks, blk.tick, 5);
  new Chart(makeCanvas(f.area), { type: 'line', data: { datasets }, options: options(x, y, true) });
  addText(row.label, f.title[0], f.title[1], blk.ax, '#9a9a9a');
}

function buildTrend(row, blk, spec, values) {
  const ds = {
    data: GENS.map((g, i) => ({ x: g, y: values[i] })),
    borderColor: 'rgb(20,236,236)', borderWidth: 1.3,
    backgroundColor: 'rgba(0,238,238,0.17)',
    fill: spec.fillTo !== undefined ? { value: spec.fillTo } : 'start'
  };
  const x = axis(0, 138, blk.trendX, blk.tick, blk.xPad);
  const y = axis(spec.y[0], spec.y[1], spec.ticks, blk.tick, 5);
  new Chart(makeCanvas(spec.area), { type: 'line', data: { datasets: [ds] }, options: options(x, y, true) });
  addText(row.label, spec.title[0], spec.title[1], blk.ax, '#9a9a9a');
}

const BLOCKS = [
  { headY: 7, headX: [120, 366, 613, 859], head: 12, tick: 8, ax: 7.5, xPad: 3, trendX: TREND_X_TICKS_B1,
    rows: [
      { label: OBJ_LABELS[0], sd: B1_FO1_SD, mean: B1_FO1_MEAN, fitRows: B1_FO1_FIT_K, fitScale: K,
        dist: { area: [28, 20, 243, 140], base: 120, peak: 68, x: [-74388, -15805], ticks: B1_FO1_DIST_TICKS, pad: 8, title: [120, 161] },
        fit: { area: [270, 25, 487, 141], y: [-70000, -20000], ticks: B1_FO1_Y_TICKS, title: [378, 156] },
        sdT: { area: [508, 25, 730, 141], y: [1000, 5000], ticks: B1_FO1_SD_TICKS, title: [619, 156] },
        meanT: { area: [760, 25, 975, 141], y: [-70000, -20000], ticks: B1_FO1_Y_TICKS, title: [868, 156] } },
      { label: OBJ_LABELS[1], sd: B1_FO2_SD, mean: B1_FO2_MEAN, fitRows: B1_FO2_FIT,
        dist: { area: [2, 170, 238, 290], base: 290, peak: 100, x: [0, 1], ticks: B1_FO2_DIST_TICKS, pad: 3, title: [120, 306] },
        fit: { area: [259, 170, 485, 287], y: [-0.2, 0.2], ticks: B1_FO2_Y_TICKS, title: [372, 301] },
        sdT: { area: [505, 170, 729, 287], y: [-0.2, 0.2], ticks: B1_FO2_Y_TICKS, title: [617, 301] },
        meanT: { area: [751, 170, 975, 287], y: [-0.2, 0.2], ticks: B1_FO2_Y_TICKS, title: [863, 301] } },
      { label: OBJ_LABELS[2], sd: B1_FO3_SD, mean: B1_FO3_MEAN, fitRows: B1_FO3_FIT,
        dist: { area: [0, 315, 243, 440], base: 422, peak: 82, x: [1.3, 42.8], ticks: B1_FO3_DIST_TICKS, pad: 3, title: [122, 451] },
        fit: { area: [257, 315, 485, 431], y: [-10, 50], ticks: B1_FO3_FIT_TICKS, title: [371, 446] },
        sdT: { area: [497, 315, 729, 431], y: [0, 6], ticks: B1_FO3_SD_TICKS, title: [612, 446] },
        meanT: { area: [747, 315, 975, 431], y: [5, 35], ticks: B1_FO3_MEAN_TICKS, title: [861, 446] } }
    ] },
  { headY: 493, headX: [123, 366, 608, 850], head: 9.5, tick: 6.5, ax: 6.5, xPad: 1.5, trendX: TREND_X_TICKS,
    rows: [
      { label: OBJ_LABELS[0], sd: B2_FO1_SD, mean: B2_FO1_MEAN, fitRows: B2_FO1_FIT_K, fitScale: K,
        dist: { area: [2, 505, 243, 608], base: 588, peak: 53, x: [-213001, -66049], ticks: B2_FO1_DIST_TICKS, pad: 5, title: [124, 623.5] },
        fit: { area: [270, 508, 485, 606], y: [-200000, -60000], ticks: B2_FO1_FIT_TICKS, title: [377, 619.5] },
        sdT: { area: [506, 510, 723, 607], y: [-2000, 11800], ticks: B2_FO1_SD_TICKS, title: [616, 619.5] },
        meanT: { area: [755, 509, 967, 607], y: [-200000, -100000], ticks: B2_FO1_MEAN_TICKS, title: [860, 619.5] } },
      { label: OBJ_LABELS[1], sd: B2_FO2_SD, mean: B2_FO2_MEAN, fitRows: B2_FO2_FIT,
        dist: { area: [2, 630, 243, 733], base: 716, peak: 79, x: [2.18, 19.33], ticks: B2_FO2_DIST_TICKS, pad: 1, title: [137, 746] },
        fit: { area: [254, 631, 485, 728], y: [-5, 20], ticks: B2_FO2_FIT_TICKS, title: [369, 741.5] },
        sdT: { area: [500, 632, 723, 728], y: [-0.5, 2], ticks: B2_FO2_SD_TICKS, title: [613, 741.5] },
        meanT: { area: [738, 632, 967, 729], y: [0, 15.8], ticks: B2_FO2_MEAN_TICKS, title: [853, 741.5] } },
      { label: OBJ_LABELS[2], sd: B2_FO3_SD, mean: B2_FO3_MEAN, fitRows: B2_FO3_FIT,
        dist: { area: [0, 755, 243, 852], base: 838, peak: 68, x: [-4.67, 8.23], ticks: B2_FO3_DIST_TICKS, pad: 4, title: [124, 867] },
        fit: { area: [255, 753, 485, 851], y: [-2, 10], ticks: B2_FO3_FIT_TICKS, title: [374, 863.5] },
        sdT: { area: [497, 752, 723, 851], y: [0, 2.5], ticks: B2_FO3_SD_TICKS, title: [609, 863.5] },
        meanT: { area: [740, 752, 967, 851], y: [0, 2.5], ticks: B2_FO3_SD_TICKS, title: [853, 863.5] } }
    ] },
  { headY: 909, headX: [124, 368, 613, 858], head: 9.5, tick: 6.5, ax: 6.5, xPad: 1.5, trendX: TREND_X_TICKS,
    rows: [
      { label: OBJ_LABELS[0], sd: B3_FO1_SD, mean: B3_FO1_MEAN, fitRows: B3_FO1_FIT_K, fitScale: K,
        dist: { area: [2, 915, 243, 1022], base: 1011, peak: 73, x: [-91551, -27709], ticks: B3_FO1_DIST_TICKS, pad: 7, title: [124, 1040] },
        fit: { area: [268, 925, 485, 1023], y: [-80000, -30000], ticks: B3_FO1_FIT_TICKS, title: [378, 1036.5] },
        sdT: { area: [507, 925, 730, 1023], y: [1000, 7000], ticks: B3_FO1_SD_TICKS, title: [619, 1036.5] },
        meanT: { area: [757, 925, 975, 1023], y: [-75000, -40000], ticks: B3_FO1_MEAN_TICKS, fillTo: -70000, title: [866, 1036.5] } },
      { label: OBJ_LABELS[1], sd: B3_FO2_SD, mean: B3_FO2_MEAN, fitRows: B3_FO2_FIT,
        dist: { area: [6, 1045, 243, 1150], base: 1137, peak: 80, x: [2.1, 25.8], ticks: B3_FO2_DIST_TICKS, pad: 3, title: [118, 1165.5] },
        fit: { area: [256, 1048, 485, 1148], y: [-5, 30], ticks: B3_FO2_FIT_TICKS, title: [370, 1159.5] },
        sdT: { area: [502, 1048, 730, 1147], y: [0, 3], ticks: B3_FO2_SD_TICKS, title: [615, 1159.5] },
        meanT: { area: [745, 1048, 975, 1147], y: [0, 25], ticks: B3_FO2_MEAN_TICKS, title: [859, 1159.5] } },
      { label: OBJ_LABELS[2], sd: B3_FO3_SD, mean: B3_FO3_MEAN, fitRows: B3_FO3_FIT,
        dist: { area: [0, 1172, 243, 1270], base: 1253, peak: 75, x: [-12.14, 35.2], ticks: B3_FO3_DIST_TICKS, pad: 6, title: [124, 1287.5] },
        fit: { area: [257, 1185, 486, 1270], y: [-5, 30], ticks: B3_FO2_FIT_TICKS, title: [375, 1283.5] },
        sdT: { area: [500, 1172, 730, 1270], y: [-2, 10], ticks: B3_FO3_SD_TICKS, title: [615, 1283.5] },
        meanT: { area: [745, 1172, 975, 1270], y: [4, 14], ticks: B3_FO3_MEAN_TICKS, title: [860, 1283.5] } }
    ] }
];

BLOCKS.forEach(blk => {
  HEADERS.forEach((h, i) => addText(h, blk.headX[i], blk.headY, blk.head, '#3a3a3a'));
  blk.rows.forEach(row => {
    buildDist(row, blk);
    buildFit(row, blk);
    buildTrend(row, blk, row.sdT, row.sd);
    buildTrend(row, blk, row.meanT, row.mean);
  });
});
</script>
</body>
</html>
